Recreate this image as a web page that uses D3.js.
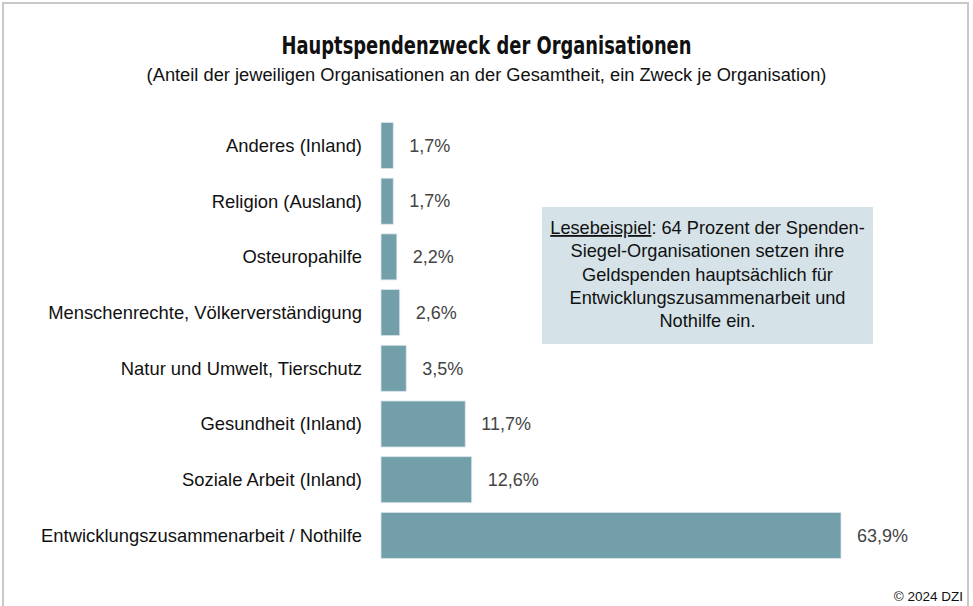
<!DOCTYPE html>
<html>
<head>
<meta charset="utf-8">
<script src="https://cdn.jsdelivr.net/npm/d3@7"></script>
<style>
  body { margin: 0; background: #fff; }
  svg { display: block; font-family: "Liberation Sans", Arial, sans-serif; }
</style>
</head>
<body>
<svg width="973" height="606"></svg>
<script>
// data
var categories = [
    "Anderes (Inland)",
    "Religion (Ausland)",
    "Osteuropahilfe",
    "Menschenrechte, Völkerverständigung",
    "Natur und Umwelt, Tierschutz",
    "Gesundheit (Inland)",
    "Soziale Arbeit (Inland)",
    "Entwicklungszusammenarbeit / Nothilfe"
];
var shares = [1.7, 1.7, 2.2, 2.6, 3.5, 11.7, 12.6, 63.9];
var noteLines = [
    ": 64 Prozent der Spenden-",
    "Siegel-Organisationen setzen ihre",
    "Geldspenden hauptsächlich für",
    "Entwicklungszusammenarbeit und",
    "Nothilfe ein."
];

var svg = d3.select("svg"),
    width = +svg.attr("width"),
    height = +svg.attr("height");

// frame (no bottom edge)
svg.append("path")
    .attr("d", "M3," + height + " V3 H968 V" + height)
    .attr("fill", "none")
    .attr("stroke", "#c8c8c8")
    .attr("stroke-width", 2);

// title - condensed face squeezed to the original width
svg.append("text")
    .attr("x", width / 2)
    .attr("y", 54)
    .attr("text-anchor", "middle")
    .attr("textLength", 410)
    .attr("lengthAdjust", "spacingAndGlyphs")
    .style("font-family", "'DejaVu Sans', sans-serif")
    .style("font-stretch", "condensed")
    .style("font-weight", "bold")
    .style("font-size", "25px")
    .attr("fill", "#111")
    .text("Hauptspendenzweck der Organisationen");

svg.append("text")
    .attr("x", width / 2)
    .attr("y", 81)
    .attr("text-anchor", "middle")
    .style("font-size", "18.3px")
    .attr("fill", "#111")
    .text("(Anteil der jeweiligen Organisationen an der Gesamtheit, ein Zweck je Organisation)");

var x = d3.scaleLinear().domain([0, 63.9]).range([381, 841]);
var y = d3.scaleBand().domain(categories).range([112.8, 568.1]).padding(0.174);

var bars = svg.append("g").attr("class", "bars");

bars.selectAll("rect")
    .data(categories)
    .enter().append("rect")
    .attr("x", x(0))
    .attr("y", function(d) { return y(d); })
    .attr("width", function(d, i) { return x(shares[i]) - x(0); })
    .attr("height", y.bandwidth())
    .attr("fill", "#739fab")
    .attr("stroke", "#d9e6ea")
    .attr("stroke-width", 0.8);

// category labels
svg.append("g")
    .selectAll("text")
    .data(categories)
    .enter().append("text")
    .attr("x", 362)
    .attr("y", function(d) { return y(d) + y.bandwidth() / 2; })
    .attr("dy", "0.35em")
    .attr("text-anchor", "end")
    .style("font-size", "18.4px")
    .attr("fill", "#111")
    .text(function(d) { return d; });

// value labels
svg.append("g")
    .selectAll("text")
    .data(categories)
    .enter().append("text")
    .attr("x", function(d, i) { return x(shares[i]) + 16; })
    .attr("y", function(d) { return y(d) + y.bandwidth() / 2; })
    .attr("dy", "0.35em")
    .style("font-size", "18px")
    .attr("fill", "#444")
    .text(function(d, i) { return d3.format(".1f")(shares[i]).replace(".", ",") + "%"; });

// reading example box
var note = svg.append("g").attr("class", "note");
note.append("rect")
    .attr("x", 542)
    .attr("y", 207)
    .attr("width", 331)
    .attr("height", 137)
    .attr("fill", "#d5e3e8");

var noteText = note.selectAll("text")
    .data(noteLines)
    .enter().append("text")
    .attr("x", 707.5)
    .attr("y", function(d, i) { return 234 + i * 23.3; })
    .attr("text-anchor", "middle")
    .style("font-size", "18.2px")
    .attr("fill", "#111");

noteText.each(function(d, i) {
    var t = d3.select(this);
    if (i === 0) {
        t.append("tspan").attr("text-decoration", "underline").text("Lesebeispiel");
    }
    t.append("tspan").text(d);
});

// copyright
svg.append("text")
    .attr("x", 963)
    .attr("y", 601)
    .attr("text-anchor", "end")
    .style("font-size", "13.5px")
    .attr("fill", "#111")
    .text("© 2024 DZI");
</script>
</body>
</html>
